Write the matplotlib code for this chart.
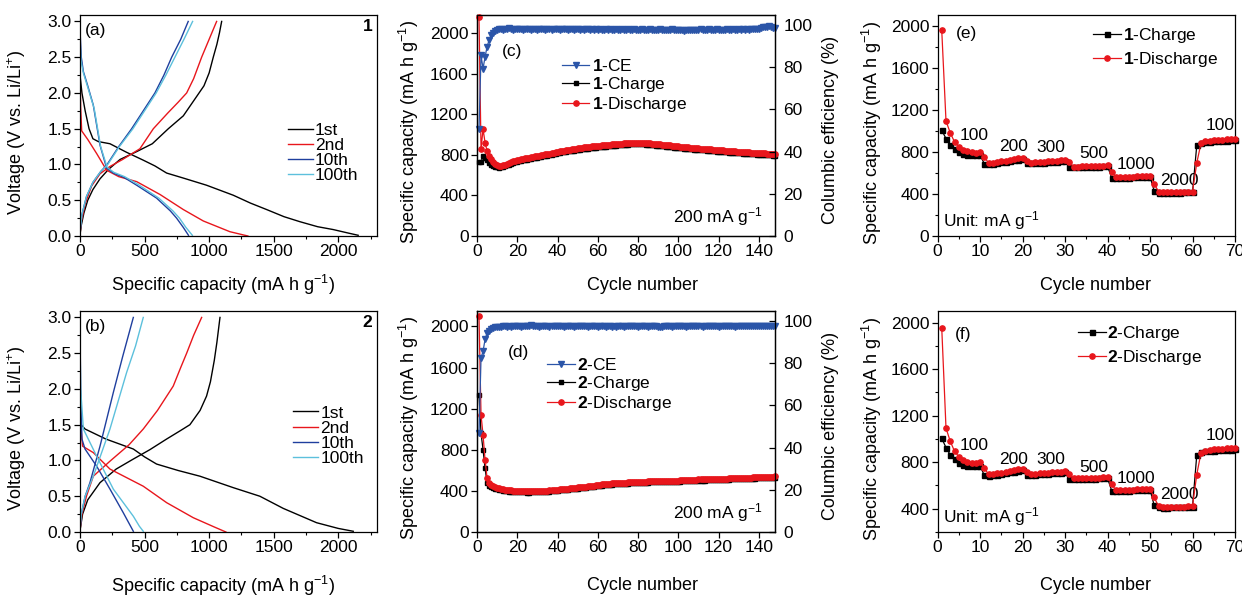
import matplotlib
matplotlib.use("Agg")
import matplotlib.pyplot as plt
from matplotlib.ticker import MultipleLocator

plt.rcParams['font.family'] = ['Liberation Sans', 'DejaVu Sans']
plt.rcParams['font.size'] = 12.5
plt.rcParams['mathtext.fontset'] = 'custom'
plt.rcParams['mathtext.rm'] = 'Liberation Sans'
plt.rcParams['mathtext.it'] = 'Liberation Sans:italic'
plt.rcParams['mathtext.bf'] = 'Liberation Sans:bold'
plt.rcParams['axes.linewidth'] = 0.9

FS = 12.5      # tick labels, legends, annotations
FS_LAB = 13    # axis labels

# ============================================================
# Data: galvanostatic profiles (capacity mA h/g, voltage V)
# ============================================================

a_1st_dis_cap = [0, 15, 40, 70, 100, 142, 232, 361, 490, 580, 671, 800, 980, 1187, 1320, 1445, 1580, 1703, 1840, 1961, 2080, 2154]
a_1st_dis_v = [2.25, 2.0, 1.75, 1.5, 1.36, 1.32, 1.29, 1.17, 1.06, 0.98, 0.88, 0.81, 0.71, 0.57, 0.46, 0.37, 0.27, 0.20, 0.13, 0.09, 0.04, 0.01]
a_1st_ch_cap = [0, 10, 30, 60, 100, 155, 220, 310, 439, 560, 684, 800, 903, 960, 1000, 1032, 1060, 1080, 1097]
a_1st_ch_v = [0.02, 0.15, 0.32, 0.5, 0.65, 0.8, 0.93, 1.07, 1.18, 1.29, 1.5, 1.68, 1.95, 2.1, 2.28, 2.5, 2.68, 2.84, 3.0]
a_2nd_dis_cap = [0, 5, 13, 60, 130, 206, 300, 439, 620, 800, 955, 1161, 1300]
a_2nd_dis_v = [2.35, 1.8, 1.47, 1.35, 1.15, 0.92, 0.83, 0.76, 0.58, 0.37, 0.21, 0.06, 0.0]
a_2nd_ch_cap = [0, 10, 40, 90, 155, 230, 330, 464, 568, 680, 760, 826, 880, 942, 1000, 1058]
a_2nd_ch_v = [0.02, 0.2, 0.45, 0.7, 0.87, 0.97, 1.07, 1.22, 1.5, 1.72, 1.87, 2.0, 2.2, 2.5, 2.75, 3.0]
a_10th_dis_cap = [0, 10, 26, 60, 103, 155, 206, 258, 340, 439, 593, 700, 748, 800, 840]
a_10th_dis_v = [2.88, 2.5, 2.3, 2.1, 1.83, 1.27, 0.95, 0.88, 0.82, 0.71, 0.53, 0.35, 0.25, 0.12, 0.01]
a_10th_ch_cap = [0, 15, 50, 100, 160, 210, 300, 400, 490, 580, 650, 710, 780, 838]
a_10th_ch_v = [0.05, 0.3, 0.55, 0.75, 0.9, 1.0, 1.25, 1.5, 1.75, 2.0, 2.25, 2.5, 2.75, 3.0]
a_100th_dis_cap = [0, 8, 26, 65, 110, 160, 210, 262, 345, 450, 610, 720, 770, 820, 870]
a_100th_dis_v = [2.75, 2.45, 2.28, 2.05, 1.78, 1.25, 0.96, 0.89, 0.83, 0.72, 0.53, 0.35, 0.25, 0.12, 0.01]
a_100th_ch_cap = [0, 15, 50, 100, 160, 215, 305, 410, 500, 590, 665, 735, 805, 872]
a_100th_ch_v = [0.05, 0.3, 0.55, 0.75, 0.9, 1.0, 1.25, 1.5, 1.75, 2.0, 2.25, 2.5, 2.75, 3.0]

b_1st_dis_cap = [0, 10, 39, 200, 413, 500, 593, 760, 929, 1187, 1393, 1574, 1832, 2000, 2116]
b_1st_dis_v = [1.9, 1.5, 1.44, 1.3, 1.16, 1.05, 0.95, 0.86, 0.78, 0.62, 0.5, 0.33, 0.13, 0.05, 0.01]
b_1st_ch_cap = [0, 20, 60, 155, 280, 413, 540, 671, 780, 851, 930, 980, 1010, 1040, 1060, 1084]
b_1st_ch_v = [0.02, 0.25, 0.45, 0.69, 0.88, 1.02, 1.15, 1.3, 1.42, 1.5, 1.7, 1.9, 2.1, 2.4, 2.65, 3.0]
b_2nd_dis_cap = [0, 5, 20, 103, 232, 490, 671, 877, 1040, 1130]
b_2nd_dis_v = [2.0, 1.5, 1.2, 1.11, 0.88, 0.64, 0.41, 0.2, 0.07, 0.0]
b_2nd_ch_cap = [0, 15, 50, 103, 232, 380, 490, 600, 722, 780, 826, 880, 942]
b_2nd_ch_v = [0.02, 0.25, 0.5, 0.78, 0.99, 1.22, 1.44, 1.7, 2.04, 2.3, 2.5, 2.75, 3.0]
b_10th_dis_cap = [0, 5, 15, 39, 129, 232, 335, 380, 413]
b_10th_dis_v = [2.85, 2.0, 1.3, 1.16, 0.92, 0.6, 0.27, 0.12, 0.01]
b_10th_ch_cap = [0, 10, 40, 77, 155, 258, 330, 413]
b_10th_ch_v = [0.02, 0.25, 0.5, 0.69, 1.2, 1.95, 2.45, 3.0]
b_100th_dis_cap = [0, 5, 26, 129, 258, 413, 460, 490]
b_100th_dis_v = [2.7, 2.0, 1.44, 1.06, 0.6, 0.22, 0.08, 0.01]
b_100th_ch_cap = [0, 10, 40, 103, 232, 361, 430, 490]
b_100th_ch_v = [0.02, 0.25, 0.5, 0.78, 1.44, 2.23, 2.6, 3.0]

profile_labels = ["1st", "2nd", "10th", "100th"]

# ============================================================
# Data: cycling at 200 mA/g (148 cycles)
# ============================================================

cycles = list(range(1, 149))

c1_discharge = [
    2156, 856, 1055, 922, 839, 790, 755, 728, 710, 698,
    690, 692, 698, 705, 712, 720, 727, 735, 742, 750,
    754, 757, 762, 766, 769, 773, 778, 781, 785, 789,
    793, 796, 801, 805, 808, 813, 818, 822, 828, 833,
    836, 840, 843, 845, 850, 853, 855, 858, 862, 864,
    866, 870, 873, 874, 877, 880, 883, 884, 886, 889,
    891, 893, 896, 897, 899, 902, 903, 906, 907, 909,
    911, 912, 914, 917, 918, 919, 921, 922, 921, 922,
    920, 919, 919, 917, 915, 913, 912, 909, 907, 905,
    903, 900, 899, 896, 894, 893, 890, 888, 887, 884,
    882, 881, 878, 876, 875, 872, 870, 869, 866, 864,
    863, 861, 860, 857, 856, 854, 852, 851, 849, 847,
    846, 844, 842, 841, 839, 837, 836, 834, 833, 831,
    830, 829, 827, 826, 824, 823, 822, 820, 819, 818,
    817, 816, 814, 813, 812, 811, 810, 809]
c1_charge = [
    726, 728, 790, 772, 745, 718, 700, 688, 680, 676,
    674, 676, 682, 689, 696, 704, 711, 719, 726, 734,
    738, 741, 746, 750, 753, 757, 762, 765, 769, 773,
    777, 780, 785, 789, 792, 797, 802, 806, 812, 817,
    820, 824, 827, 829, 834, 837, 839, 842, 846, 848,
    850, 854, 857, 858, 861, 864, 867, 868, 870, 873,
    875, 877, 880, 881, 883, 886, 887, 890, 891, 893,
    895, 896, 898, 901, 902, 903, 905, 906, 905, 906,
    904, 903, 903, 901, 899, 897, 896, 893, 891, 889,
    887, 884, 883, 880, 878, 877, 874, 872, 871, 868,
    866, 865, 862, 860, 859, 856, 854, 853, 850, 848,
    847, 845, 844, 841, 840, 838, 836, 835, 833, 831,
    830, 828, 826, 825, 823, 821, 820, 818, 817, 815,
    814, 813, 811, 810, 808, 807, 806, 804, 803, 802,
    801, 800, 798, 797, 796, 795, 794, 793]
c1_ce = [
    50.8, 85.7, 79.4, 84.9, 89.7, 92.9, 95.2, 96.3, 97.3, 97.9,
    98.1, 98.3, 97.9, 98.2, 98.0, 98.4, 98.1, 97.8, 98.2, 98.3,
    98.0, 98.2, 97.9, 98.1, 98.3, 98.0, 97.8, 98.2, 98.1, 97.9,
    98.2, 98.0, 98.3, 97.9, 98.1, 98.2, 97.8, 98.0, 98.3, 98.1,
    97.9, 98.2, 98.0, 98.1, 97.8, 98.2, 98.0, 97.9, 98.1, 98.0,
    97.8, 98.1, 97.9, 98.0, 98.2, 97.7, 98.0, 97.9, 98.1, 97.8,
    98.0, 97.9, 97.7, 98.1, 97.9, 98.0, 97.8, 97.9, 98.0, 97.7,
    97.9, 98.0, 97.8, 97.9, 98.1, 97.7, 97.9, 98.0, 97.8, 97.9,
    97.8, 98.0, 97.9, 97.7, 97.9, 98.0, 97.8, 97.9, 97.7, 97.9,
    98.0, 97.8, 97.9, 97.7, 97.9, 97.8, 98.0, 97.7, 97.9, 97.8,
    97.6, 97.5, 97.4, 97.6, 97.8, 97.7, 97.9, 97.8, 97.6, 97.8,
    98.0, 97.9, 97.7, 97.8, 98.0, 97.9, 97.7, 97.9, 98.0, 97.8,
    97.9, 97.7, 97.9, 98.0, 97.8, 97.9, 98.1, 97.8, 97.9, 98.0,
    97.8, 98.0, 97.9, 98.1, 97.8, 98.0, 98.2, 98.0, 98.3, 98.1,
    98.6, 98.9, 99.3, 99.0, 99.5, 99.2, 98.8, 98.5]

c2_discharge = [
    2097, 1139, 945, 703, 526, 477, 458, 446, 437, 430,
    425, 420, 416, 412, 409, 406, 404, 402, 400, 399,
    398, 397, 396, 396, 395, 395, 396, 396, 397, 397,
    398, 399, 400, 401, 403, 404, 406, 408, 410, 413,
    415, 417, 419, 421, 423, 425, 427, 429, 431, 433,
    435, 437, 439, 442, 444, 446, 449, 452, 455, 458,
    461, 463, 465, 467, 469, 471, 472, 474, 475, 477,
    478, 479, 480, 481, 482, 483, 484, 485, 486, 487,
    488, 489, 490, 491, 492, 493, 494, 495, 496, 497,
    497, 498, 498, 499, 499, 500, 500, 500, 501, 501,
    502, 503, 504, 505, 506, 507, 508, 509, 510, 511,
    511, 512, 512, 513, 514, 514, 515, 515, 516, 516,
    517, 518, 519, 520, 521, 522, 523, 524, 525, 526,
    527, 528, 528, 529, 530, 530, 531, 531, 532, 532,
    533, 534, 535, 536, 537, 538, 539, 540]
c2_charge = [
    1332, 961, 800, 623, 477, 452, 438, 428, 420, 414,
    410, 406, 402, 399, 396, 394, 392, 390, 389, 388,
    387, 386, 385, 385, 384, 384, 385, 385, 386, 386,
    387, 388, 389, 390, 392, 393, 395, 397, 399, 402,
    404, 406, 408, 410, 412, 414, 416, 418, 420, 422,
    424, 426, 428, 431, 433, 435, 438, 441, 444, 447,
    450, 452, 454, 456, 458, 460, 461, 463, 464, 466,
    467, 468, 469, 470, 471, 472, 473, 474, 475, 476,
    477, 478, 479, 480, 481, 482, 483, 484, 485, 486,
    486, 487, 487, 488, 488, 489, 489, 489, 490, 490,
    491, 492, 493, 494, 495, 496, 497, 498, 499, 500,
    500, 501, 501, 502, 503, 503, 504, 504, 505, 505,
    506, 507, 508, 509, 510, 511, 512, 513, 514, 515,
    516, 517, 517, 518, 519, 519, 520, 520, 521, 521,
    522, 523, 524, 525, 526, 527, 528, 529]
c2_ce = [
    46.8, 82.5, 85.7, 91.3, 94.4, 95.5, 96.3, 96.8, 97.0, 97.2,
    97.4, 97.3, 97.6, 97.5, 97.3, 97.7, 97.4, 97.6, 97.5, 97.8,
    97.6, 97.4, 97.7, 97.5, 97.8, 97.6, 98.0, 97.7, 97.5, 97.6,
    97.4, 97.7, 97.5, 97.6, 97.8, 97.4, 97.6, 97.5, 97.7, 97.6,
    97.5, 97.7, 97.4, 97.6, 97.5, 97.7, 97.6, 97.4, 97.7, 97.5,
    97.6, 97.8, 97.5, 97.6, 97.4, 97.7, 97.5, 97.6, 97.7, 97.4,
    97.6, 97.5, 97.7, 97.3, 97.6, 97.5, 97.0, 97.6, 97.4, 97.7,
    97.5, 97.6, 97.4, 97.7, 97.5, 97.6, 97.8, 97.5, 97.6, 97.4,
    97.7, 97.5, 97.6, 97.7, 97.4, 97.6, 97.5, 97.7, 97.6, 97.2,
    97.1, 97.4, 97.6, 97.5, 97.7, 97.6, 97.4, 97.7, 97.5, 97.6,
    97.8, 97.5, 97.6, 97.4, 97.7, 97.5, 97.6, 97.8, 97.5, 97.6,
    97.7, 97.4, 97.6, 97.5, 97.7, 97.6, 97.8, 97.5, 97.6, 97.4,
    97.7, 97.5, 97.6, 97.8, 97.5, 97.7, 97.6, 97.4, 97.7, 97.6,
    97.8, 97.6, 97.7, 97.9, 97.6, 97.8, 97.7, 97.5, 97.8, 97.6,
    97.7, 97.5, 97.8, 97.6, 97.7, 97.5, 97.6, 97.7]

# ============================================================
# Data: rate capability (70 cycles), same for both panels
# ============================================================

rate_cycles = list(range(1, 71))
rate_discharge = [
    1953, 1093, 980, 895, 848, 818, 803, 795, 792, 800,
    752, 695, 698, 703, 709, 715, 722, 730, 738, 745,
    712, 698, 700, 703, 706, 709, 712, 715, 718, 722,
    700, 660, 660, 661, 663, 664, 666, 667, 669, 671,
    610, 558, 560, 562, 563, 565, 566, 568, 569, 571,
    498, 420, 416, 415, 416, 417, 418, 419, 420, 421,
    693, 882, 900, 906, 910, 913, 916, 918, 920, 922]
rate_charge = [
    1005, 926, 863, 825, 795, 775, 768, 766, 768, 770,
    688, 685, 688, 693, 699, 705, 712, 719, 726, 733,
    690, 690, 692, 695, 698, 701, 704, 707, 710, 713,
    655, 652, 653, 654, 656, 657, 659, 660, 662, 663,
    553, 550, 552, 554, 555, 557, 558, 560, 561, 563,
    428, 412, 410, 410, 411, 412, 413, 414, 415, 416,
    860, 885, 893, 897, 900, 903, 905, 907, 909, 911]
rate_labels = ["100", "200", "300", "500", "1000", "2000", "100"]
rate_label_cycle = [8.7, 18.0, 26.6, 36.7, 46.8, 56.9, 66.5]
rate_label_y_e = [957, 846, 841, 784, 682, 531, 1052]
rate_label_y_f = [941, 827, 827, 755, 656, 520, 1026]

# ============================================================
# Styles
# ============================================================

BLACK = "#000000"
RED = "#e8161c"
DBLUE = "#1f3f9e"
CYAN = "#5cc0dc"
CEBLUE = "#2b55a8"
profile_colors = [BLACK, RED, DBLUE, CYAN]

CAP_LABEL = "Specific capacity (mA h g$^{-1}$)"


def px_axes(fig, left, top, right, bottom):
    W, H = 1242.0, 596.0
    return fig.add_axes([left / W, 1 - bottom / H, (right - left) / W, (bottom - top) / H])


def style_ticks(ax, major_len=4, minor_len=2.2):
    ax.tick_params(which='major', direction='out', length=major_len, width=0.9, labelsize=FS, pad=2)
    ax.tick_params(which='minor', direction='out', length=minor_len, width=0.8)
    ax.tick_params(top=False, right=False, which='both')


def set_labels(ax, xlabel, ylabel, xl_pos, yl_pos):
    ax.set_xlabel(xlabel, fontsize=FS_LAB)
    ax.set_ylabel(ylabel, fontsize=FS_LAB)
    ax.xaxis.label.set_va('center')
    ax.yaxis.label.set_va('center')
    ax.xaxis.set_label_coords(*xl_pos)
    ax.yaxis.set_label_coords(*yl_pos)


# ============================================================
# Panels
# ============================================================

def voltage_panel(ax, curves, tag, sample, leg_anchor, xl_y):
    for lab, col, (dc, dv, cc, cv) in zip(profile_labels, profile_colors, curves):
        ax.plot(dc, dv, color=col, lw=1.0, label=lab)
        ax.plot(cc, cv, color=col, lw=1.0)
    ax.set_xlim(0, 2300)
    ax.set_ylim(0, 3.09)
    ax.xaxis.set_major_locator(MultipleLocator(500))
    ax.xaxis.set_minor_locator(MultipleLocator(250))
    ax.yaxis.set_major_locator(MultipleLocator(0.5))
    ax.yaxis.set_minor_locator(MultipleLocator(0.25))
    ax.yaxis.set_major_formatter(matplotlib.ticker.FormatStrFormatter('%.1f'))
    style_ticks(ax)
    set_labels(ax, CAP_LABEL, "Voltage (V vs. Li/Li$^{+}$)", (0.483, xl_y), (-0.212, 0.47))
    ax.text(0.018, 0.932, tag, transform=ax.transAxes, ha='left', va='center', fontsize=FS)
    ax.text(0.985, 0.947, sample, transform=ax.transAxes, ha='right', va='center',
            fontsize=FS, fontweight='bold')
    ax.legend(loc='upper left', bbox_to_anchor=leg_anchor, frameon=False, fontsize=FS,
              handlelength=1.45, handletextpad=0.1, labelspacing=0.0,
              borderpad=0, borderaxespad=0)


def cycling_panel(ax, sample, dis, ch, ce, tag, tag_pos, ymax, leg_anchor, xl_y):
    ax.plot(cycles, ch, color=BLACK, lw=0.9, marker='s', ms=3.0, mec=BLACK, mfc=BLACK,
            clip_on=False, zorder=3, label=f"$\\mathbf{{{sample}}}$-Charge")
    ax.plot(cycles, dis, color=RED, lw=0.9, marker='o', ms=3.8, mec=RED, mfc=RED,
            clip_on=False, zorder=4, label=f"$\\mathbf{{{sample}}}$-Discharge")
    ax.set_xlim(0, 148)
    ax.set_ylim(0, ymax)
    ax.xaxis.set_major_locator(MultipleLocator(20))
    ax.yaxis.set_major_locator(MultipleLocator(400))
    style_ticks(ax)
    set_labels(ax, "Cycle number", CAP_LABEL, (0.557, xl_y), (-0.228, 0.472))

    ax2 = ax.twinx()
    ax2.plot(cycles, ce, color=CEBLUE, lw=0.9, marker='v', ms=5.0, mec=CEBLUE, mfc=CEBLUE,
             clip_on=False, label=f"$\\mathbf{{{sample}}}$-CE")
    ax2.set_ylim(0, 104.8)
    ax2.yaxis.set_major_locator(MultipleLocator(20))
    ax2.tick_params(axis='y', direction='in', length=4, width=0.9, labelsize=FS, pad=6)
    ax2.set_ylabel("Columbic efficiency (%)", fontsize=FS_LAB, rotation=90)
    ax2.yaxis.label.set_va('center')
    ax2.yaxis.set_label_coords(1.185, 0.48)

    ax.text(tag_pos[0], tag_pos[1], tag, transform=ax.transAxes, ha='center', va='center', fontsize=FS)
    ax.text(0.96, 0.09, "200 mA g$^{-1}$", transform=ax.transAxes, ha='right', va='center', fontsize=FS)

    handles = ax2.get_lines()[:1] + ax.get_lines()[:2]
    ax2.legend(handles, [h.get_label() for h in handles], loc='upper left',
               bbox_to_anchor=leg_anchor, frameon=False, fontsize=FS,
               handlelength=1.6, handletextpad=0.15, labelspacing=0.05,
               borderpad=0, borderaxespad=0)


def rate_panel(ax, sample, tag, tag_pos, ylim, label_y, leg_anchor, xl_y):
    ax.plot(rate_cycles, rate_charge, color=BLACK, lw=0.9, marker='s', ms=3.6,
            mec=BLACK, mfc=BLACK, clip_on=False, zorder=3,
            label=f"$\\mathbf{{{sample}}}$-Charge")
    ax.plot(rate_cycles, rate_discharge, color=RED, lw=0.9, marker='o', ms=3.8,
            mec=RED, mfc=RED, clip_on=False, zorder=4,
            label=f"$\\mathbf{{{sample}}}$-Discharge")
    ax.set_xlim(0, 70)
    ax.set_ylim(*ylim)
    ax.xaxis.set_major_locator(MultipleLocator(10))
    ax.xaxis.set_minor_locator(MultipleLocator(5))
    ax.yaxis.set_major_locator(MultipleLocator(400))
    ax.yaxis.set_minor_locator(MultipleLocator(200))
    style_ticks(ax)
    set_labels(ax, "Cycle number", CAP_LABEL, (0.53, xl_y), (-0.22, 0.466))
    for txt, cx, cy in zip(rate_labels, rate_label_cycle, label_y):
        ax.text(cx, cy, txt, ha='center', va='center', fontsize=FS)
    ax.text(0.02, 0.072, "Unit: mA g$^{-1}$", transform=ax.transAxes, ha='left', va='center', fontsize=FS)
    ax.text(tag_pos[0], tag_pos[1], tag, transform=ax.transAxes, ha='center', va='center', fontsize=FS)
    ax.legend(loc='upper left', bbox_to_anchor=leg_anchor, frameon=False, fontsize=FS,
              handlelength=1.6, handletextpad=0.1, labelspacing=0.3,
              borderpad=0, borderaxespad=0)


fig = plt.figure(figsize=(12.42, 5.96), dpi=100)

ax_a = px_axes(fig, 80, 15, 377, 236)
ax_b = px_axes(fig, 80, 311, 377, 532)
ax_c = px_axes(fig, 477, 15, 775, 236)
ax_d = px_axes(fig, 477, 311, 775, 532)
ax_e = px_axes(fig, 937.5, 15, 1235, 236)
ax_f = px_axes(fig, 937.5, 311, 1235, 532)

curves_a = [
    (a_1st_dis_cap, a_1st_dis_v, a_1st_ch_cap, a_1st_ch_v),
    (a_2nd_dis_cap, a_2nd_dis_v, a_2nd_ch_cap, a_2nd_ch_v),
    (a_10th_dis_cap, a_10th_dis_v, a_10th_ch_cap, a_10th_ch_v),
    (a_100th_dis_cap, a_100th_dis_v, a_100th_ch_cap, a_100th_ch_v),
]
curves_b = [
    (b_1st_dis_cap, b_1st_dis_v, b_1st_ch_cap, b_1st_ch_v),
    (b_2nd_dis_cap, b_2nd_dis_v, b_2nd_ch_cap, b_2nd_ch_v),
    (b_10th_dis_cap, b_10th_dis_v, b_10th_ch_cap, b_10th_ch_v),
    (b_100th_dis_cap, b_100th_dis_v, b_100th_ch_cap, b_100th_ch_v),
]

voltage_panel(ax_a, curves_a, "(a)", "1", (0.70, 0.512), -0.222)
voltage_panel(ax_b, curves_b, "(b)", "2", (0.718, 0.573), -0.244)

cycling_panel(ax_c, "1", c1_discharge, c1_charge, c1_ce, "(c)", (0.116, 0.834), 2180, (0.284, 0.806), -0.222)
cycling_panel(ax_d, "2", c2_discharge, c2_charge, c2_ce, "(d)", (0.139, 0.811), 2150, (0.234, 0.791), -0.24)

rate_panel(ax_e, "1", "(e)", (0.0976, 0.917), (0, 2100), rate_label_y_e, (0.523, 0.95), -0.222)
rate_panel(ax_f, "2", "(f)", (0.086, 0.895), (200, 2100), rate_label_y_f, (0.472, 0.942), -0.244)

fig.savefig("out.png", dpi=100)
